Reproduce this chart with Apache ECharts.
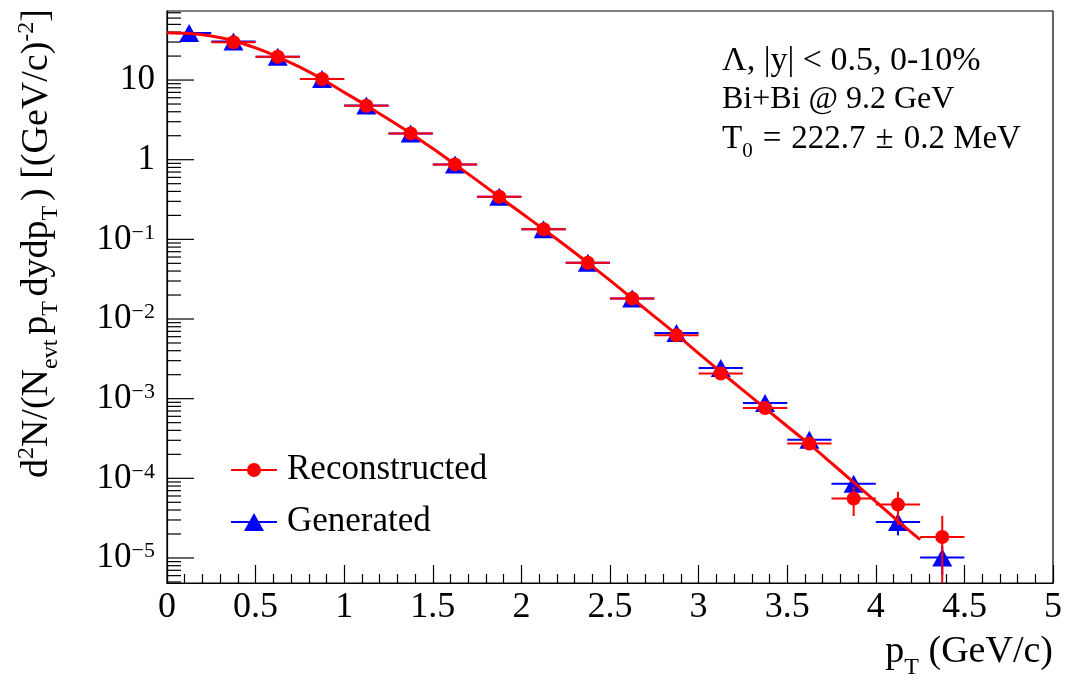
<!DOCTYPE html>
<html><head><meta charset="utf-8">
<script src="https://cdn.jsdelivr.net/npm/echarts@6/dist/echarts.min.js"></script>
<style>html,body{margin:0;padding:0;background:#fff}#c{width:1077px;height:684px}</style>
</head><body><div id="c"></div>
<script>
// ---- data ----
const ptCenters = [0.125,0.375,0.625,0.875,1.125,1.375,1.625,1.875,2.125,2.375,2.625,2.875,3.125,3.375,3.625,3.875,4.125,4.375];
const binHalfWidth = 0.125;
const recoValues = [null,29.8,19.6,10.3,4.75,2.14,0.873,0.342,0.134,0.0507,0.0181,0.00625,0.00207,0.000764,0.000273,0.0000556,0.0000468,0.0000183];
const recoErrors = [null,0.4,0.25,0.12,0.06,0.03,0.012,0.005,0.002,0.0008,0.0003,0.00012,0.00005,0.00003,0.000015,0.000022,0.000021,0.0000155];
const genValues  = [38.9,30.5,19.6,10.3,4.8,2.14,0.873,0.342,0.134,0.0507,0.0181,0.00668,0.00243,0.000883,0.000306,0.0000857,0.0000282,0.0000101];
const genErrors  = [0.3,0.2,0.15,0.08,0.04,0.02,0.008,0.003,0.0012,0.0005,0.0002,0.00008,0.00003,0.000012,0.000006,0.000009,0.000009,0.000004];
const fitPt     = [0,0.125,0.25,0.375,0.5,0.625,0.75,0.875,1.0,1.125,1.25,1.375,1.5,1.625,1.75,1.875,2.0,2.125,2.25,2.375,2.5,2.625,2.75,2.875,3.0,3.125,3.25,3.375,3.5,3.625,3.75,3.875,4.0,4.125,4.25];
const fitValues = [39.3,38.5,35.8,31.2,25.3,19.6,14.5,10.3,7.0,4.8,3.22,2.14,1.38,0.873,0.55,0.342,0.214,0.134,0.083,0.0507,0.0305,0.0181,0.0108,0.0064,0.0037,0.00217,0.00128,0.00076,0.00045,0.000268,0.000155,0.000089,0.000051,0.000029,0.000017];
const xMin = 0, xMax = 5, xInterval = 0.5;
const yMin = 4.85e-6, yMax = 73.6;
const yMajorExponents = [-5,-4,-3,-2,-1,0,1];
const yMinorMultipliers = [2,3,4,5,6,7,8,9];
const yMinorDecades = [-6,-5,-4,-3,-2,-1,0,1];
const legendNames = ['Reconstructed','Generated'];
const infoLine1 = 'Λ, |y| < 0.5, 0-10%';
const infoLine2 = 'Bi+Bi @ 9.2 GeV';
const infoLine3 = '{m|T}{sub|0}{op|=}{m|222.7}{op|±}{m|0.2 MeV}';
const xTitle = '{m|p}{sub|T}{m| (GeV/c)}';
const yTitle = '{m|d}{sup|2}{m|N/(N}{sub|evt\u2009}{m|p}{sub|T\u2009}{m|dydp}{sub|T\u2009}{m|) [(GeV/c)}{sup|-2}{m|]}';

// ---- styling ----
const FONT = 'Liberation Serif';
const RED = '#ff0000', BLUE = '#0000ff';
function rich(size, drop, opPad) {
  const small = Math.round(size * 0.64);
  const L = Math.round(size * 1.45);
  return {
    m:   {fontFamily: FONT, fontSize: size, lineHeight: L, padding: [4,0,0,0], verticalAlign: 'top', color: '#000'},
    op:  {fontFamily: FONT, fontSize: size, lineHeight: L, padding: [4,opPad || 0,0,opPad || 0], verticalAlign: 'top', color: '#000'},
    sup: {fontFamily: FONT, fontSize: small, lineHeight: L, verticalAlign: 'top', color: '#000'},
    sub: {fontFamily: FONT, fontSize: small, lineHeight: L, padding: [drop,0,0,0], verticalAlign: 'top', color: '#000'}
  };
}

const yTicks = [];
yMajorExponents.forEach(e => yTicks.push([0, Math.pow(10, e), 1]));
yMinorDecades.forEach(d => yMinorMultipliers.forEach(m => {
  const v = m * Math.pow(10, d);
  if (v > yMin && v < yMax) yTicks.push([0, v, 0]);
}));

function errorBarSeries(name, values, errors, color, z) {
  const data = [];
  ptCenters.forEach((x, i) => { if (values[i] != null) data.push([x, values[i], errors[i]]); });
  return {
    type: 'custom', name: name + ' errors', z: z, clip: true, silent: true,
    data: data, encode: {x: 0, y: 1},
    renderItem(params, api) {
      const x = api.value(0), y = api.value(1), e = api.value(2);
      const cs = params.coordSys;
      const c = api.coord([x, y]);
      const l = api.coord([x - binHalfWidth, y]);
      const r = api.coord([x + binHalfWidth, y]);
      const t = api.coord([x, y + e]);
      const low = y - e;
      const b = low > 0 ? api.coord([x, low]) : [c[0], cs.y + cs.height + 20];
      const st = {stroke: color, lineWidth: 2};
      return {type: 'group', children: [
        {type: 'line', shape: {x1: l[0], y1: c[1], x2: r[0], y2: c[1]}, style: st},
        {type: 'line', shape: {x1: c[0], y1: t[1], x2: c[0], y2: b[1]}, style: st}
      ]};
    }
  };
}
function markerSeries(name, values, color, symbol, size, z) {
  const data = [];
  ptCenters.forEach((x, i) => { if (values[i] != null) data.push([x, values[i]]); });
  return {type: 'scatter', name: name, data: data, symbol: symbol, symbolSize: size, z: z,
          itemStyle: {color: color, opacity: 1}, silent: true};
}

const chart = echarts.init(document.getElementById('c'), null, {renderer: 'canvas'});
const rY = rich(38, 24), rX = rich(38, 26), rT = rich(33, 22, 10);
const yLabelRich = {
  b:   {fontFamily: FONT, fontSize: 35, lineHeight: 35, padding: [4,0,0,0], verticalAlign: 'bottom', color: '#000'},
  sup: {fontFamily: FONT, fontSize: 22, lineHeight: 22, verticalAlign: 'top', color: '#000'}
};

chart.setOption({
  animation: false,
  backgroundColor: '#fff',
  grid: {left: 167, top: 11, width: 886, height: 572, show: true, borderColor: '#000', borderWidth: 1.2, backgroundColor: 'transparent'},
  xAxis: {
    type: 'value', min: xMin, max: xMax, interval: xInterval,
    axisLine: {show: true, lineStyle: {color: '#000', width: 1.2}},
    axisTick: {show: true, inside: true, length: 18, lineStyle: {color: '#000', width: 1.2}},
    minorTick: {show: true, splitNumber: 5, length: 9, lineStyle: {color: '#000', width: 1.2}},
    splitLine: {show: false},
    axisLabel: {fontFamily: FONT, fontSize: 36, color: '#000', margin: 7,
      formatter: v => String(Math.round(v * 10) / 10)}
  },
  yAxis: {
    type: 'log', logBase: 10, min: yMin, max: yMax,
    axisLine: {show: true, lineStyle: {color: '#000', width: 1.2}},
    axisTick: {show: false},
    splitLine: {show: false},
    axisLabel: {
      margin: 12, color: '#000', fontFamily: FONT, fontSize: 35,
      formatter: v => {
        const e = Math.log10(v), r = Math.round(e);
        if (Math.abs(e - r) > 1e-6) return '';
        if (r === 0) return '{b|1}';
        if (r === 1) return '{b|10}';
        return '{b|10}{sup|' + (r < 0 ? '\u2212' : '') + Math.abs(r) + '}';
      },
      rich: yLabelRich
    }
  },
  series: [
    {
      type: 'custom', name: 'y ticks', silent: true, z: 1, clip: false,
      data: yTicks, encode: {x: 0, y: 1},
      renderItem(params, api) {
        const c = api.coord([api.value(0), api.value(1)]);
        const len = api.value(2) ? 27 : 14;
        return {type: 'line', shape: {x1: c[0], y1: c[1], x2: c[0] + len, y2: c[1]}, style: {stroke: '#000', lineWidth: 1.2}};
      }
    },
    errorBarSeries('Generated', genValues, genErrors, BLUE, 3),
    markerSeries('Generated', genValues, BLUE, 'triangle', [20, 18], 4),
    errorBarSeries('Reconstructed', recoValues, recoErrors, RED, 5),
    markerSeries('Reconstructed', recoValues, RED, 'circle', 14, 6),
    {
      type: 'line', name: 'fit', z: 7, silent: true, showSymbol: false, smooth: 0.3,
      data: fitPt.map((x, i) => [x, fitValues[i]]),
      lineStyle: {color: RED, width: 3}
    }
  ],
  graphic: [
    {type: 'text', x: 42, y: 9, rotation: Math.PI / 2, z: 10,
     style: {text: yTitle, rich: rY, textAlign: 'right', textVerticalAlign: 'middle'}},
    {type: 'text', x: 1053, y: 657, z: 10,
     style: {text: xTitle, rich: rX, textAlign: 'right', textVerticalAlign: 'middle'}},
    {type: 'text', x: 722, y: 61, z: 10,
     style: {text: infoLine1, fontFamily: FONT, fontSize: 34, fill: '#000', textAlign: 'left', textVerticalAlign: 'middle'}},
    {type: 'text', x: 722, y: 100, z: 10,
     style: {text: infoLine2, fontFamily: FONT, fontSize: 32, fill: '#000', textAlign: 'left', textVerticalAlign: 'middle'}},
    {type: 'text', x: 722, y: 143, z: 10,
     style: {text: infoLine3, rich: rT, textAlign: 'left', textVerticalAlign: 'middle'}},
    // legend
    {type: 'line', z: 10, shape: {x1: 231, y1: 470, x2: 277, y2: 470}, style: {stroke: RED, lineWidth: 2}},
    {type: 'circle', z: 11, shape: {cx: 254, cy: 470, r: 7}, style: {fill: RED}},
    {type: 'text', x: 287, y: 470, z: 10,
     style: {text: legendNames[0], fontFamily: FONT, fontSize: 35, fill: '#000', textAlign: 'left', textVerticalAlign: 'middle'}},
    {type: 'line', z: 10, shape: {x1: 231, y1: 522, x2: 277, y2: 522}, style: {stroke: BLUE, lineWidth: 2}},
    {type: 'polygon', z: 11, shape: {points: [[254, 513], [264, 531], [244, 531]]}, style: {fill: BLUE}},
    {type: 'text', x: 287, y: 522, z: 10,
     style: {text: legendNames[1], fontFamily: FONT, fontSize: 35, fill: '#000', textAlign: 'left', textVerticalAlign: 'middle'}}
  ]
});
</script>
</body></html>
